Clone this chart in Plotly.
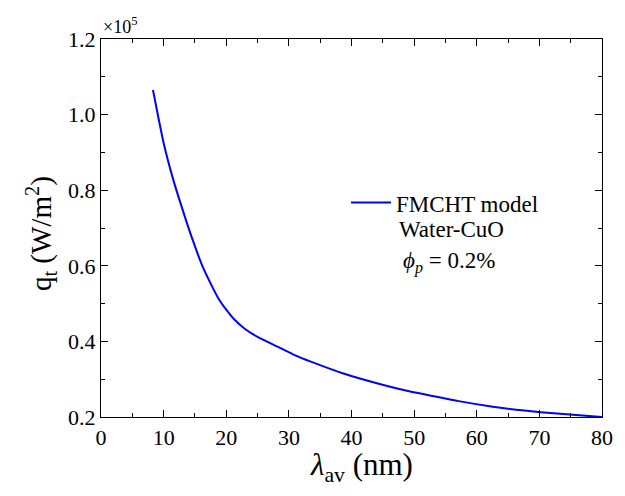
import plotly.graph_objects as go

lam = [8.3, 10.0, 11.5, 13.0, 14.5, 16.3, 18.7, 20.0, 21.3, 23.0, 25.0, 28.2, 31.0, 33.4,
       38.7, 43.9, 49.2, 53.4, 57.1, 62.3, 67.6, 72.8, 80.0]
q = [1.065, 0.925, 0.830, 0.750, 0.675, 0.595, 0.515, 0.484, 0.458, 0.433, 0.412, 0.386, 0.363, 0.347,
     0.315, 0.290, 0.268, 0.254, 0.242, 0.228, 0.217, 0.209, 0.200]

x_ticks = [0, 10, 20, 30, 40, 50, 60, 70, 80]
y_ticks = [0.2, 0.4, 0.6, 0.8, 1.0, 1.2]
y_labels = ["0.2", "0.4", "0.6", "0.8", "1.0", "1.2"]

FONT = "Liberation Serif"

fig = go.Figure()
fig.add_trace(go.Scatter(x=lam, y=q, mode="lines", name="FMCHT model",
                         line=dict(color="#0000ff", width=2, shape="spline", smoothing=0.6)))

axis_common = dict(showline=True, linecolor="black", linewidth=1.3, mirror="ticks",
                   ticks="inside", ticklen=7, tickwidth=1.3, tickcolor="black",
                   showgrid=False, zeroline=False, ticklabeloverflow="allow",
                   tickfont=dict(family=FONT, size=22, color="black"))

fig.update_xaxes(range=[0, 80], tickvals=x_ticks,
                 minor=dict(dtick=5, ticks="inside", ticklen=4, tickwidth=1.3, tickcolor="black"),
                 **axis_common)
fig.update_yaxes(range=[0.2, 1.2], tickvals=y_ticks, ticktext=y_labels,
                 minor=dict(dtick=0.1, ticks="inside", ticklen=4, tickwidth=1.3, tickcolor="black"),
                 **axis_common)

fig.update_layout(
    width=625, height=496,
    margin=dict(l=101, r=16, t=39, b=79),
    paper_bgcolor="white", plot_bgcolor="white",
    font=dict(family=FONT, color="black"),
    showlegend=True,
    legend=dict(x=0.489, y=0.567, xanchor="left", yanchor="middle",
                bgcolor="rgba(0,0,0,0)", font=dict(family=FONT, size=23, color="black"),
                itemwidth=40),
    annotations=[
        dict(text="×10<sup>5</sup>", x=0, y=1.0, xref="paper", yref="paper",
             xanchor="left", yanchor="bottom", showarrow=False, yshift=0,
             font=dict(family=FONT, size=18, color="black")),
        dict(text="Water-CuO", x=0.591, y=0.495, xref="paper", yref="paper",
             xanchor="left", yanchor="middle", showarrow=False,
             font=dict(family=FONT, size=23, color="black")),
        dict(text="<i>ϕ</i><sub><i>p</i></sub> = 0.2%", x=0.598, y=0.41, xref="paper", yref="paper",
             xanchor="left", yanchor="middle", showarrow=False,
             font=dict(family=FONT, size=23, color="black")),
        dict(text="<i>λ</i><sub>av</sub> (nm)", x=0.519, y=-0.131, xref="paper", yref="paper",
             xanchor="center", yanchor="middle", showarrow=False,
             font=dict(family=FONT, size=31, color="black")),
        dict(text="q<sub>t</sub> (W/m<sup>2</sup>)", x=-0.121, y=0.485, xref="paper", yref="paper",
             xanchor="center", yanchor="middle", showarrow=False, textangle=-90,
             font=dict(family=FONT, size=29, color="black")),
    ],
)

fig.write_html("out.html", config={"displayModeBar": False},
               post_script="document.body.style.margin='0';document.body.style.overflow='hidden';")
